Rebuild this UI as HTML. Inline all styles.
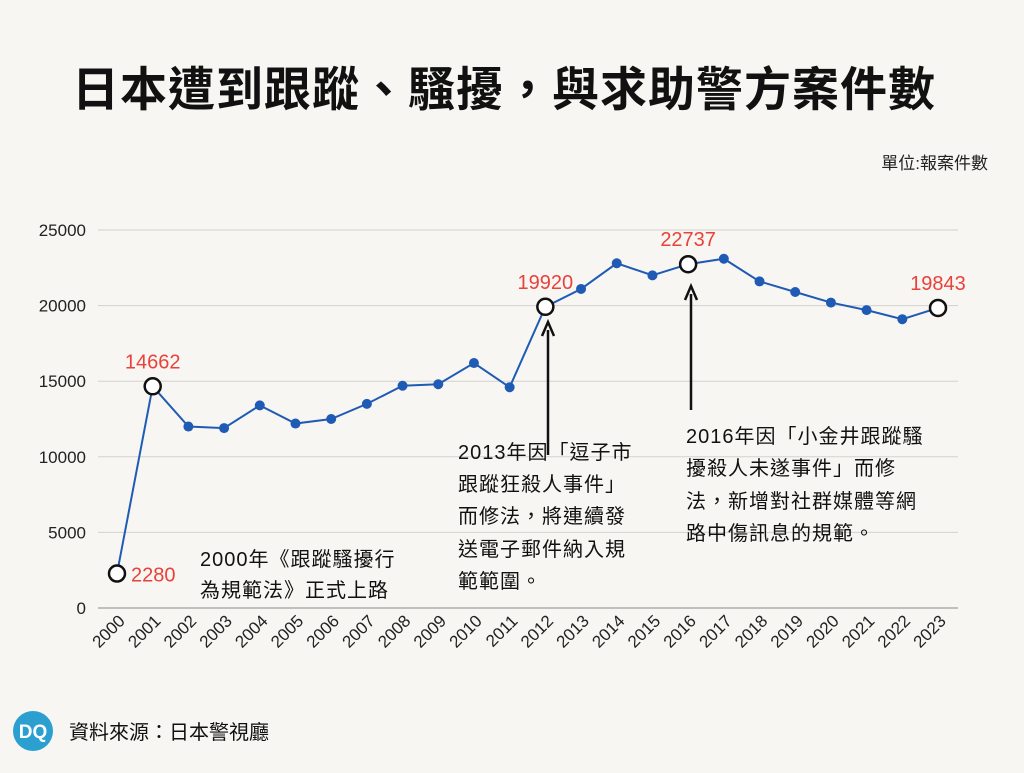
<!DOCTYPE html>
<html><head><meta charset="utf-8"><style>
body{margin:0;width:1024px;height:768px;background:#f8f6f2;overflow:hidden;font-family:"Liberation Sans","Noto Sans CJK TC",sans-serif;}
svg text{font-family:"Liberation Sans","Noto Sans CJK TC",sans-serif;}
</style></head><body>
<svg id="c" width="1024" height="768">
<text x="504" y="106" text-anchor="middle" font-size="47" font-weight="bold" fill="#111" letter-spacing="1">日本遭到跟蹤、騷擾，與求助警方案件數</text>
<text x="988" y="169" text-anchor="end" font-size="17" fill="#222">單位:報案件數</text>
<g id="grid"></g><g id="marks"></g>
<g font-size="20" fill="#111" letter-spacing="1">
<text x="200" y="566">2000年《跟蹤騷擾行</text><text x="200" y="597">為規範法》正式上路</text>
<text x="458" y="459">2013年因「逗子市</text><text x="458" y="491">跟蹤狂殺人事件」</text><text x="458" y="523">而修法，將連續發</text><text x="458" y="556">送電子郵件納入規</text><text x="458" y="588">範範圍。</text>
<text x="686" y="443">2016年因「小金井跟蹤騷</text><text x="686" y="475">擾殺人未遂事件」而修</text><text x="686" y="508">法，新增對社群媒體等網</text><text x="686" y="540">路中傷訊息的規範。</text>
</g>
<line x1="548" y1="455" x2="548" y2="330" stroke="#111" stroke-width="2.5"/>
<path d="M542 336 L548 322 L554 336" fill="none" stroke="#111" stroke-width="2.5"/>
<line x1="691" y1="410" x2="691" y2="294" stroke="#111" stroke-width="2.5"/>
<path d="M685 300 L691 286 L697 300" fill="none" stroke="#111" stroke-width="2.5"/>
<circle cx="33" cy="731" r="20" fill="#2a9fd0"/>
<text x="33" y="738" text-anchor="middle" font-size="19" font-weight="bold" fill="#fff">DQ</text>
<text x="69" y="739" font-size="20" fill="#111">資料來源：日本警視廳</text>
</svg>
<script>
const years=["2000","2001","2002","2003","2004","2005","2006","2007","2008","2009","2010","2011","2012","2013","2014","2015","2016","2017","2018","2019","2020","2021","2022","2023"];
const values=[2280,14662,12000,11900,13400,12200,12500,13500,14700,14800,16200,14600,19920,21100,22800,22000,22737,23100,21600,20900,20200,19700,19100,19843];
const yTicks=[0,5000,10000,15000,20000,25000];
const highlighted=[0,1,12,16,23];
const NS="http://www.w3.org/2000/svg";
const X=i=>117+i*(938-117)/(years.length-1);
const Y=v=>608-v*(378/25000);
function mk(t,a,p){const e=document.createElementNS(NS,t);for(const k in a)e.setAttribute(k,a[k]);p.appendChild(e);return e;}
const g=document.getElementById('grid'),m=document.getElementById('marks');
yTicks.forEach(t=>{
 const l=mk('line',{x1:98,x2:958,y1:Y(t),y2:Y(t),stroke:t===0?'#888':'#d4d2ce','stroke-width':1},g);
 
 
 const tx=mk('text',{x:86,y:Y(t)+6,'text-anchor':'end','font-size':17,fill:'#222'},g);tx.textContent=t;
 
 
});
years.forEach((y,i)=>{
 const tx=mk('text',{x:X(i)+9,y:622,'text-anchor':'end','font-size':17,fill:'#222',transform:`rotate(-45 ${X(i)+9} 622)`},g);tx.textContent=y;
 
 
});
const ln=mk('polyline',{points:values.map((v,i)=>X(i)+','+Y(v)).join(' '),fill:'none',stroke:'#1f5bb5','stroke-width':2},m);


values.forEach((v,i)=>{
 const h=highlighted.includes(i);
 const c=mk('circle',h?{cx:X(i),cy:Y(v),r:8,fill:'#fff',stroke:'#111','stroke-width':2.5}:{cx:X(i),cy:Y(v),r:5,fill:'#1f5bb5'},m);
 
 
 if(h){
  const t=mk('text',{x:i===0?X(i)+14:X(i),y:i===0?Y(v)+8:Y(v)-18,'text-anchor':i===0?'start':'middle','font-size':20,fill:'#e8423a'},m);
  t.textContent=v;
  
  
 }
});
</script>
</body></html>
